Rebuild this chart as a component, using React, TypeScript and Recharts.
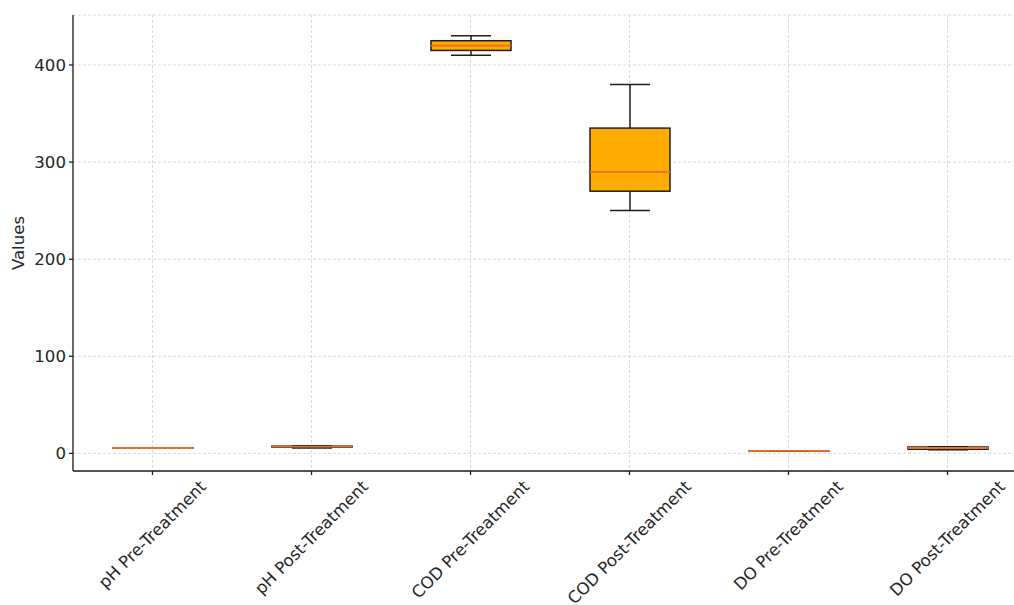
import { ComposedChart, Bar, XAxis, YAxis, CartesianGrid } from "recharts";

// water-quality parameters, before and after treatment
const categories = [
  "pH Pre-Treatment",
  "pH Post-Treatment",
  "COD Pre-Treatment",
  "COD Post-Treatment",
  "DO Pre-Treatment",
  "DO Post-Treatment",
];
const mins = [5.5, 5.6, 410, 250, 2.5, 3.6];
const q1s = [5.5, 6.4, 415, 270, 2.5, 4.2];
const medians = [5.5, 7.0, 420, 290, 2.5, 5.5];
const q3s = [5.5, 7.4, 425, 335, 2.5, 6.5];
const maxs = [5.5, 7.8, 430, 380, 2.5, 6.8];

const yTicks = [0, 100, 200, 300, 400];
const yDomain: [number, number] = [-18.2, 451.5];

const rows = categories.map((name, i) => ({
  name,
  min: mins[i],
  q1: q1s[i],
  median: medians[i],
  q3: q3s[i],
  max: maxs[i],
}));

const FONT = "'DejaVu Sans', sans-serif";
const TEXT = "#262626";
const INK = "#1f1f1f";
const BOX_FILL = "#ffab00";
const MEDIAN = "#f36a2b";
const TICK_SIZE = 16.6;

let measureCtx: CanvasRenderingContext2D | null = null;
function textWidth(s: string, size: number) {
  if (!measureCtx) measureCtx = document.createElement("canvas").getContext("2d");
  if (!measureCtx) return s.length * size * 0.6;
  measureCtx.font = `${size}px 'DejaVu Sans'`;
  return measureCtx.measureText(s).width;
}

// 45° label centred under its tick, top of its bounding box at y
function RotatedTick({ x, y, payload }: any) {
  const label = String(payload.value);
  const w = textWidth(label, TICK_SIZE);
  const cy = y + ((w + TICK_SIZE) * Math.SQRT1_2) / 2;
  return (
    <text
      x={x}
      y={cy}
      textAnchor="middle"
      dominantBaseline="central"
      transform={`rotate(-45 ${x} ${cy})`}
      fontSize={TICK_SIZE}
      fontFamily={FONT}
      fill={TEXT}
    >
      {label}
    </text>
  );
}

function span(props: any) {
  const top = Math.min(props.y, props.y + props.height);
  const bottom = Math.max(props.y, props.y + props.height);
  return { top, bottom };
}

function Whisker(props: any) {
  const { x, width } = props;
  const { top, bottom } = span(props);
  const cx = x + width / 2;
  const half = width / 4;
  return (
    <g stroke={INK} strokeWidth={1.5}>
      <line x1={cx} x2={cx} y1={top} y2={bottom} />
      <line x1={cx - half} x2={cx + half} y1={top} y2={top} />
      <line x1={cx - half} x2={cx + half} y1={bottom} y2={bottom} />
    </g>
  );
}

function Box(props: any) {
  const { x, width } = props;
  const { top, bottom } = span(props);
  return (
    <rect
      x={x}
      y={top}
      width={width}
      height={Math.max(bottom - top, 0.01)}
      fill={BOX_FILL}
      stroke={INK}
      strokeWidth={1.5}
    />
  );
}

function Median(props: any) {
  const { x, width } = props;
  const { top } = span(props);
  return <line x1={x} x2={x + width} y1={top} y2={top} stroke={MEDIAN} strokeWidth={1.8} />;
}

function YTitle({ viewBox }: any) {
  const cy = viewBox.y + viewBox.height / 2;
  const cx = 18;
  return (
    <text
      x={cx}
      y={cy}
      textAnchor="middle"
      dominantBaseline="central"
      transform={`rotate(-90 ${cx} ${cy})`}
      fontSize={TICK_SIZE}
      fontFamily={FONT}
      fill={TEXT}
    >
      Values
    </text>
  );
}

export default function App() {
  return (
    <div
      style={{
        position: "fixed",
        left: 0,
        top: 0,
        width: 1014,
        height: 605,
        overflow: "hidden",
        background: "#fff",
      }}
    >
      <ComposedChart
        width={1040}
        height={605}
        data={rows}
        margin={{ top: 15, right: 13, bottom: 0, left: 0 }}
      >
        <CartesianGrid stroke="#cfcfcf" strokeDasharray="3 2" strokeWidth={0.8} />
        <XAxis
          dataKey="name"
          height={134}
          tickSize={4}
          tickMargin={3}
          interval={0}
          tick={<RotatedTick />}
          axisLine={{ stroke: INK, strokeWidth: 1.3 }}
          tickLine={{ stroke: INK, strokeWidth: 1.3 }}
        />
        <XAxis dataKey="name" xAxisId="w" hide />
        <XAxis dataKey="name" xAxisId="m" hide />
        <YAxis
          width={73}
          domain={yDomain}
          ticks={yTicks}
          allowDataOverflow
          tickSize={4}
          tickMargin={3}
          tick={{ fontSize: TICK_SIZE, fontFamily: FONT, fill: TEXT }}
          axisLine={{ stroke: INK, strokeWidth: 1.3 }}
          tickLine={{ stroke: INK, strokeWidth: 1.3 }}
          label={<YTitle />}
        />
        <Bar
          xAxisId="w"
          dataKey={(d: any) => [d.min, d.max]}
          barSize={80}
          shape={<Whisker />}
          isAnimationActive={false}
        />
        <Bar
          dataKey={(d: any) => [d.q1, d.q3]}
          barSize={80}
          shape={<Box />}
          isAnimationActive={false}
        />
        <Bar
          xAxisId="m"
          dataKey={(d: any) => [d.median, d.median]}
          barSize={80}
          shape={<Median />}
          isAnimationActive={false}
        />
      </ComposedChart>
    </div>
  );
}
